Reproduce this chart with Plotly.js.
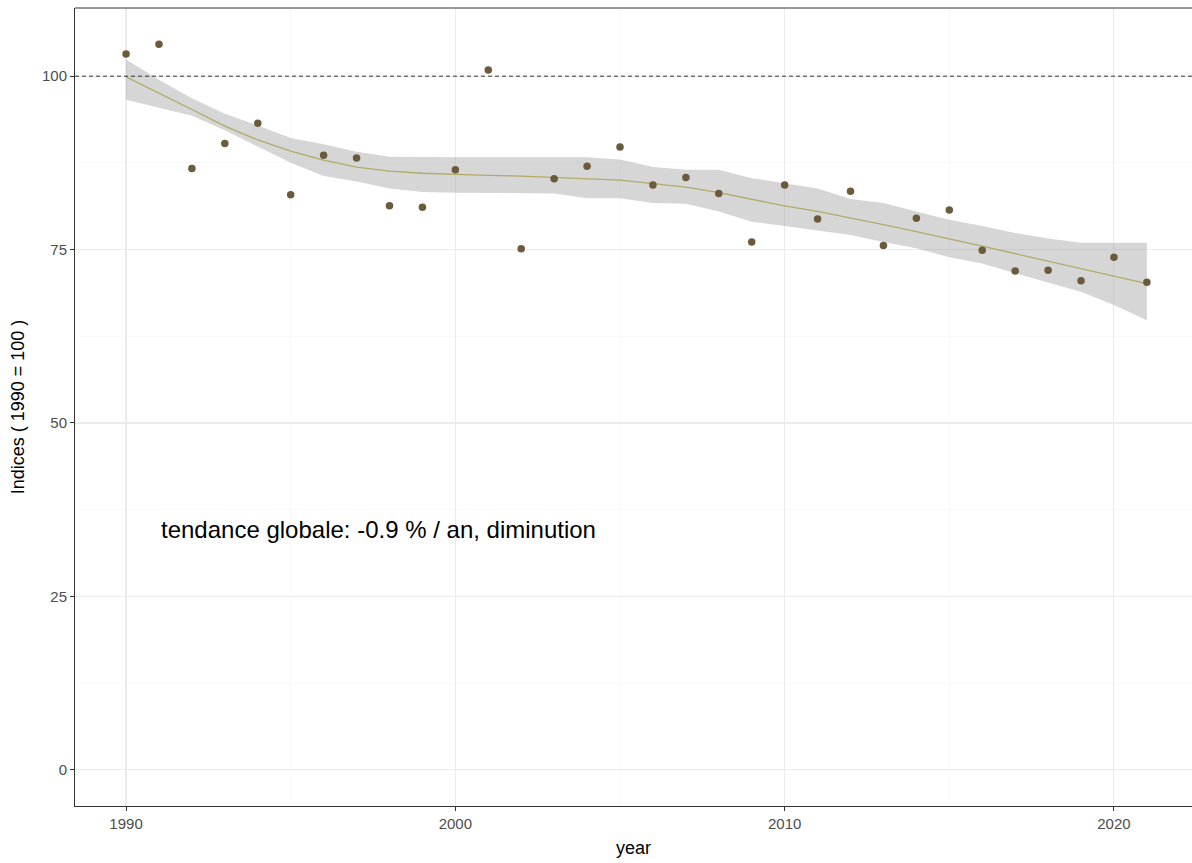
<!DOCTYPE html>
<html>
<head>
<meta charset="utf-8">
<script src="https://cdn.plot.ly/plotly-3.0.1.min.js"></script>
<style>
  html, body { margin: 0; padding: 0; background: #ffffff; }
  #chart { width: 1192px; height: 863px; }
</style>
</head>
<body>
<div id="chart"></div>
<script>
// Annual index values (1990 = 100)
const years = [1990, 1991, 1992, 1993, 1994, 1995, 1996, 1997, 1998, 1999,
               2000, 2001, 2002, 2003, 2004, 2005, 2006, 2007, 2008, 2009,
               2010, 2011, 2012, 2013, 2014, 2015, 2016, 2017, 2018, 2019,
               2020, 2021];
const indices = [103.2, 104.6, 86.7, 90.3, 93.2, 82.9, 88.6, 88.2, 81.3, 81.1,
                 86.5, 100.9, 75.1, 85.2, 87.0, 89.8, 84.3, 85.4, 83.1, 76.1,
                 84.3, 79.4, 83.4, 75.6, 79.5, 80.7, 74.9, 71.9, 72.0, 70.5,
                 73.9, 70.3];

// Smoothed trend and its confidence band
const trend = [99.9, 97.6, 95.2, 92.8, 90.8, 89.2, 87.9, 86.9, 86.3, 86.0,
               85.8, 85.7, 85.6, 85.4, 85.3, 85.0, 84.5, 84.0, 83.2, 82.2,
               81.3, 80.5, 79.6, 78.6, 77.6, 76.6, 75.5, 74.4, 73.3, 72.2,
               71.1, 70.1];
const bandUpper = [102.4, 99.5, 96.8, 94.6, 92.9, 91.1, 90.2, 89.1, 88.4, 88.3,
                   88.3, 88.3, 88.3, 88.3, 88.3, 88.0, 86.9, 86.5, 86.5, 85.3,
                   84.5, 83.8, 82.3, 81.7, 80.5, 79.3, 78.4, 77.4, 76.6, 76.0,
                   76.0, 76.0];
const bandLower = [96.6, 95.5, 94.3, 92.2, 89.8, 87.5, 85.6, 84.8, 83.8, 83.3,
                   83.2, 83.2, 83.2, 83.1, 82.4, 82.4, 81.7, 81.6, 80.5, 79.0,
                   78.4, 77.8, 77.1, 76.1, 75.2, 73.9, 73.0, 71.6, 70.3, 68.9,
                   67.0, 64.8];

const xTicks = [1990, 2000, 2010, 2020];
const yTicks = [0, 25, 50, 75, 100];
const referenceLevel = 100;
const trendLabel = 'tendance globale: -0.9 % / an, diminution';

const traces = [
  { x: years, y: bandLower, type: 'scatter', mode: 'lines',
    line: { width: 0 }, hoverinfo: 'skip', showlegend: false },
  { x: years, y: bandUpper, type: 'scatter', mode: 'lines',
    line: { width: 0 }, fill: 'tonexty', fillcolor: 'rgba(153,153,153,0.4)',
    hoverinfo: 'skip', showlegend: false },
  { x: years, y: trend, type: 'scatter', mode: 'lines',
    line: { color: '#b1ab68', width: 1.3 }, showlegend: false },
  { x: years, y: indices, type: 'scatter', mode: 'markers',
    marker: { color: '#6b5a3b', size: 7.5 }, showlegend: false }
];

const font = { family: 'Liberation Sans, Arial, sans-serif' };

const layout = {
  width: 1192, height: 863,
  paper_bgcolor: '#ffffff', plot_bgcolor: '#ffffff',
  margin: { l: 75, r: 0, t: 8, b: 57 },
  font: font,
  showlegend: false,
  xaxis: {
    range: [1988.45, 2022.37],
    tickvals: xTicks, ticktext: xTicks.map(String),
    ticks: 'outside', ticklen: 4, tickwidth: 1, tickcolor: '#333333',
    tickfont: { size: 15, color: '#4d4d4d' },
    showline: true, linecolor: '#333333', linewidth: 1,
    showgrid: true, gridcolor: '#ebebeb', gridwidth: 1.1,
    minor: { tickvals: [1995, 2005, 2015], showgrid: true, gridcolor: '#f5f5f5', gridwidth: 0.6, ticks: '' },
    zeroline: false,
    title: { text: 'year', font: { size: 18, color: '#000000' }, standoff: 10 }
  },
  yaxis: {
    range: [-5.23, 109.83],
    tickvals: yTicks, ticktext: yTicks.map(String),
    ticks: 'outside', ticklen: 4, tickwidth: 1, tickcolor: '#333333',
    tickfont: { size: 15, color: '#4d4d4d' },
    showline: true, linecolor: '#333333', linewidth: 1,
    showgrid: true, gridcolor: '#ebebeb', gridwidth: 1.1,
    minor: { tickvals: [12.5, 37.5, 62.5, 87.5], showgrid: true, gridcolor: '#f5f5f5', gridwidth: 0.6, ticks: '' },
    zeroline: false,
    title: { text: 'Indices ( 1990 = 100 )', font: { size: 18, color: '#000000' }, standoff: 12 }
  },
  shapes: [
    { type: 'line', xref: 'paper', x0: 0, x1: 1, yref: 'y', y0: referenceLevel, y1: referenceLevel,
      line: { color: '#333333', width: 1, dash: '4px,3px' }, layer: 'above' },
    { type: 'line', xref: 'paper', x0: 0, x1: 1, yref: 'paper', y0: 1, y1: 1,
      line: { color: '#333333', width: 1 }, layer: 'above' }
  ],
  annotations: [
    { x: 1991, y: 34.6, xref: 'x', yref: 'y', text: trendLabel, showarrow: false,
      xanchor: 'left', yanchor: 'middle', font: { size: 24, color: '#000000' } }
  ]
};

Plotly.newPlot('chart', traces, layout, { displayModeBar: false, staticPlot: true });
</script>
</body>
</html>
